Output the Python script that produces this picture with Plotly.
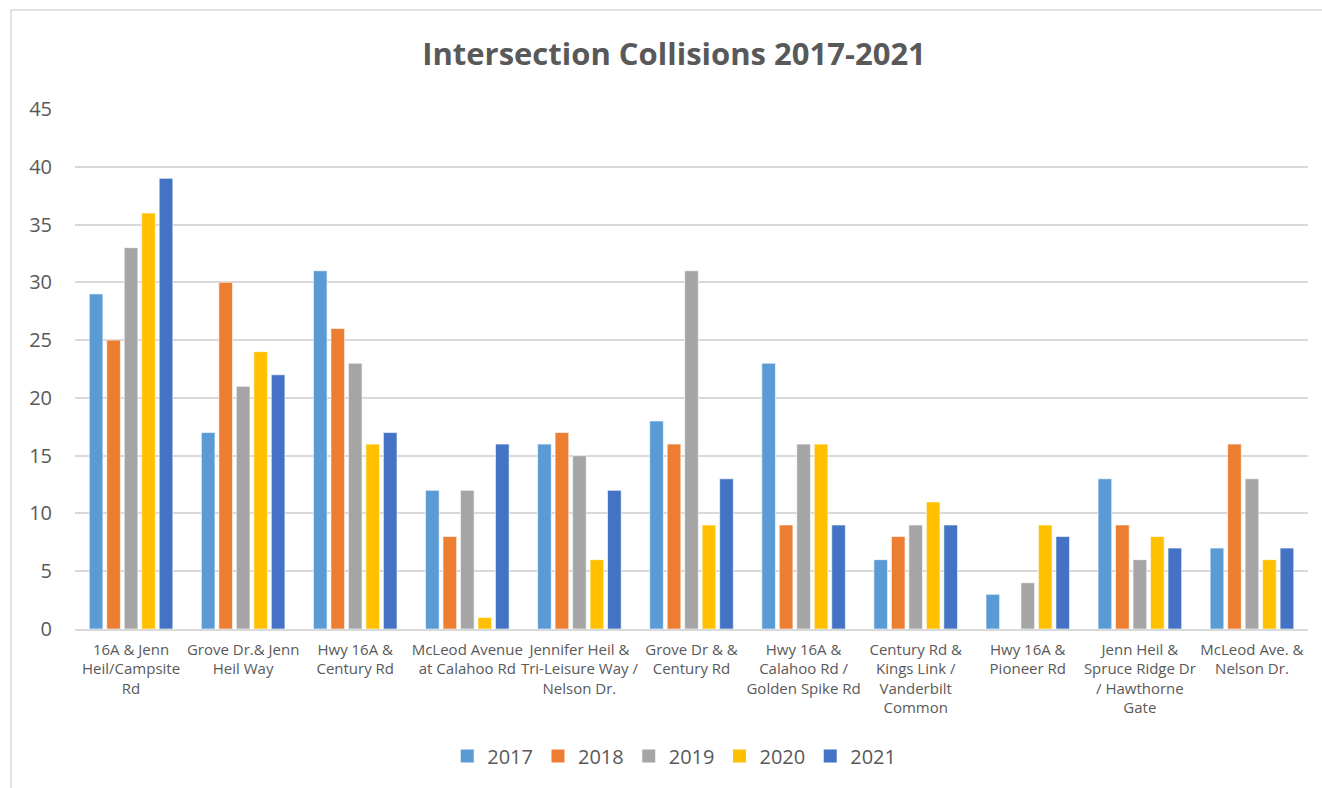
import plotly.graph_objects as go

intersections = [
    "16A & Jenn<br>Heil/Campsite<br>Rd",
    "Grove Dr.& Jenn<br>Heil Way",
    "Hwy 16A &<br>Century Rd",
    "McLeod Avenue<br>at Calahoo Rd",
    "Jennifer Heil &<br>Tri-Leisure Way /<br>Nelson Dr.",
    "Grove Dr & &<br>Century Rd",
    "Hwy 16A &<br>Calahoo Rd /<br>Golden Spike Rd",
    "Century Rd &<br>Kings Link /<br>Vanderbilt<br>Common",
    "Hwy 16A &<br>Pioneer Rd",
    "Jenn Heil &<br>Spruce Ridge Dr<br>/ Hawthorne<br>Gate",
    "McLeod Ave. &<br>Nelson Dr.",
]

years = ["2017", "2018", "2019", "2020", "2021"]

collisions_2017 = [29, 17, 31, 12, 16, 18, 23, 6, 3, 13, 7]
collisions_2018 = [25, 30, 26, 8, 17, 16, 9, 8, 0, 9, 16]
collisions_2019 = [33, 21, 23, 12, 15, 31, 16, 9, 4, 6, 13]
collisions_2020 = [36, 24, 16, 1, 6, 9, 16, 11, 9, 8, 6]
collisions_2021 = [39, 22, 17, 16, 12, 13, 9, 9, 8, 7, 7]

series = [collisions_2017, collisions_2018, collisions_2019, collisions_2020, collisions_2021]
colors = ["#5B9BD5", "#ED7D31", "#A5A5A5", "#FFC000", "#4472C4"]

y_ticks = [0, 5, 10, 15, 20, 25, 30, 35, 40, 45]

FONT = "Open Sans, Liberation Sans, sans-serif"
GRAY = "#595959"

fig = go.Figure()
for year, vals, col in zip(years, series, colors):
    fig.add_trace(go.Bar(
        name=year,
        x=intersections,
        y=vals,
        legendgroup=year,
        showlegend=False,
        marker=dict(color=col, line=dict(color="rgba(255,255,255,0.6)", width=1)),
    ))

# Square swatches for the legend
for year, col in zip(years, colors):
    fig.add_trace(go.Scatter(
        name=year,
        x=[None],
        y=[None],
        mode="markers",
        legendgroup=year,
        marker=dict(symbol="square", size=13, color=col),
    ))

fig.update_layout(
    width=1322,
    height=788,
    barmode="group",
    bargap=0.22,
    bargroupgap=0.22,
    plot_bgcolor="white",
    paper_bgcolor="white",
    margin=dict(l=75, r=14, t=109, b=159),
    title=dict(
        text="<b>Intersection Collisions 2017-2021</b>",
        x=674 / 1322,
        xanchor="center",
        y=1 - 54 / 788,
        yanchor="middle",
        font=dict(family=FONT, size=31, color=GRAY),
    ),
    xaxis=dict(
        tickfont=dict(family=FONT, size=15, color=GRAY),
        showline=True,
        linecolor="#D9D9D9",
        linewidth=1.5,
        showgrid=False,
        ticks="",
        tickangle=0,
        ticklabelstandoff=6,
        automargin=False,
    ),
    yaxis=dict(
        range=[0, 45],
        tickvals=y_ticks,
        tickfont=dict(family=FONT, size=20, color=GRAY),
        showgrid=True,
        gridcolor="#D9D9D9",
        gridwidth=1.5,
        zeroline=False,
        ticks="",
        ticklabelstandoff=22,
        automargin=False,
    ),
    legend=dict(
        orientation="h",
        x=0.486,
        xanchor="center",
        y=(629 - 756) / 520,
        yanchor="middle",
        font=dict(family=FONT, size=20, color=GRAY),
        itemwidth=30,
        traceorder="normal",
    ),
    showlegend=True,
)

# Chart area frame (top and left edges)
fig.add_shape(type="line", xref="paper", yref="paper",
              x0=(10 - 75) / 1233, x1=(1322 - 75) / 1233,
              y0=(629 - 10) / 520, y1=(629 - 10) / 520,
              line=dict(color="#D9D9D9", width=1.5))
fig.add_shape(type="line", xref="paper", yref="paper",
              x0=(11 - 75) / 1233, x1=(11 - 75) / 1233,
              y0=(629 - 10) / 520, y1=(629 - 790) / 520,
              line=dict(color="#D9D9D9", width=1.5))

fig.write_html("out.html")
